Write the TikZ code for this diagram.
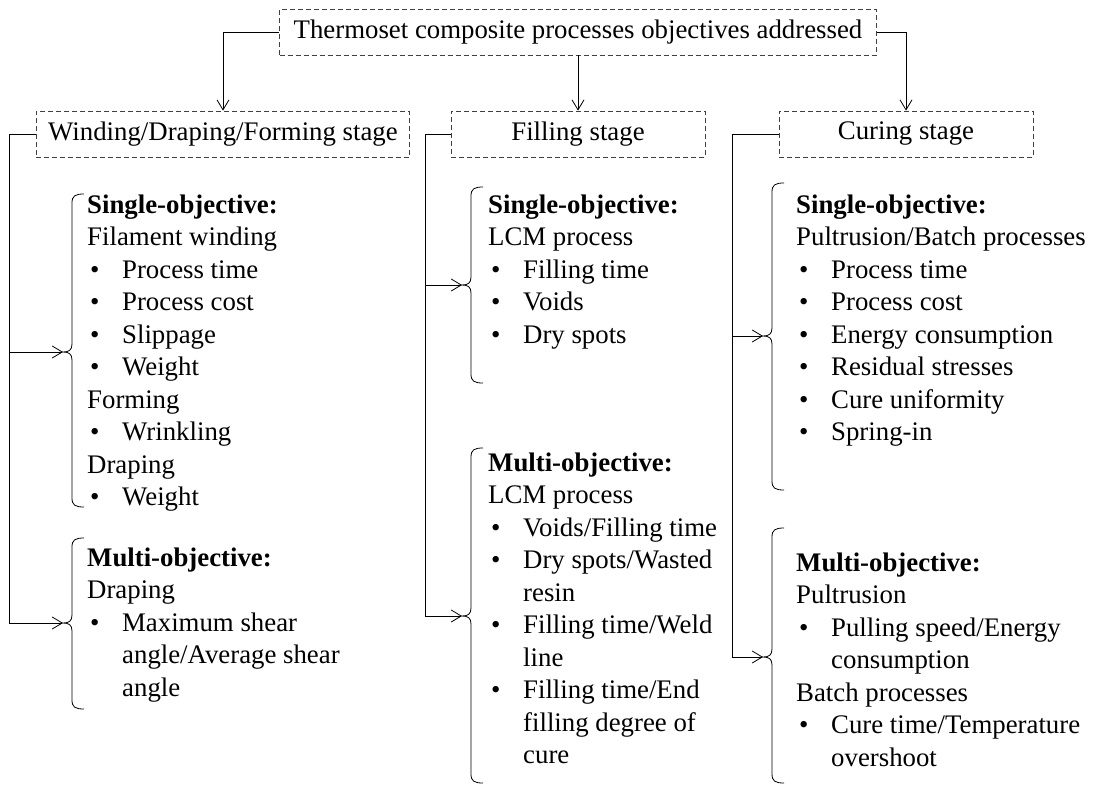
\documentclass[tikz,border=0pt]{standalone}
\usepackage{fontspec}
\setmainfont{Liberation Serif}
\usetikzlibrary{arrows.meta}

\newcommand{\diagfont}{\fontsize{26.8}{32.5}\selectfont}
\newcommand{\itembul}{\makebox[35pt][l]{\hspace{3pt}\textbullet}}
\newcommand{\wrapind}{\hspace*{35pt}}
% #1 tip name, #2 spine x, #3 top, #4 tip y, #5 bottom
\newcommand{\objbrace}[5]{%
  \coordinate (#1) at (#2-9,#4);
  \draw[brace line] (#2+12,#3) .. controls (#2+3,#3) and (#2,#3+2) .. (#2,#3+9)
    -- (#2,#4-8) .. controls (#2,#4-2) and (#2-3,#4) .. (#1)
    .. controls (#2-3,#4) and (#2,#4+2) .. (#2,#4+8)
    -- (#2,#5-9) .. controls (#2,#5-2) and (#2+3,#5) .. (#2+12,#5);}

\begin{document}
\begin{tikzpicture}[x=1pt, y=-1pt,
  stage/.style={draw=black!75, dash pattern=on 5pt off 3pt, line width=0.8pt,
    minimum width=254pt, minimum height=46pt, inner xsep=12pt, font=\diagfont},
  txt/.style={align=left, inner sep=0pt, anchor=base west, font=\diagfont},
  link/.style={line width=0.8pt, -{Straight Barb[length=10pt,width=12pt]}},
  brace line/.style={line width=0.8pt}]
\useasboundingbox (0,0) rectangle (1094,787);

% boxes
\node[stage, inner xsep=14pt] (goal) at (578,32) {Thermoset composite processes objectives addressed};
\node[stage] (wind) at (223,134) {Winding/Draping/Forming stage};
\node[stage] (fill) at (578,134) {Filling stage};
\node[stage] (cure) at (906,134) {Curing stage};

\draw[link] (goal.west) -| (wind.north);
\draw[link] (goal.south) -- (fill.north);
\draw[link] (goal.east) -| (cure.north);

% braces
\objbrace{lsg}{72}{194}{352}{507}
\objbrace{lmu}{72}{538}{623}{709}
\objbrace{fsg}{471}{187}{285}{383}
\objbrace{fmu}{471}{448}{616}{783}
\objbrace{csg}{772}{183}{336}{490}
\objbrace{cmu}{772}{528}{657}{783}

% trunks
\coordinate (wx) at (9,0);
\coordinate (fx) at (425,0);
\coordinate (cx) at (732,0);
\draw[link] (wind.west) -| (wx |- lmu) -- (lmu);
\draw[link] (wx |- lsg) -- (lsg);
\draw[link] (fill.west) -| (fx |- fmu) -- (fmu);
\draw[link] (fx |- fsg) -- (fsg);
\draw[link] (cure.west) -| (cx |- cmu) -- (cmu);
\draw[link] (cx |- csg) -- (csg);

% texts (placed at the baseline of their last line)
\node[txt] (lsgtxt) at (87,505.5) {\textbf{Single-objective:}\\Filament winding\\\itembul Process time\\\itembul Process cost\\\itembul Slippage\\\itembul Weight\\Forming\\\itembul Wrinkling\\Draping\\\itembul Weight};
\node[txt] (lmutxt) at (87,696) {\textbf{Multi-objective:}\\Draping\\\itembul Maximum shear\\\wrapind angle/Average shear\\\wrapind angle};
\node[txt] (fsgtxt) at (488,343) {\textbf{Single-objective:}\\LCM process\\\itembul Filling time\\\itembul Voids\\\itembul Dry spots};
\node[txt] (fmutxt) at (488,763.5) {\textbf{Multi-objective:}\\LCM process\\\itembul Voids/Filling time\\\itembul Dry spots/Wasted\\\wrapind resin\\\itembul Filling time/Weld\\\wrapind line\\\itembul Filling time/End\\\wrapind filling degree of\\\wrapind cure};
\node[txt] (csgtxt) at (796,440.5) {\textbf{Single-objective:}\\Pultrusion/Batch processes\\\itembul Process time\\\itembul Process cost\\\itembul Energy consumption\\\itembul Residual stresses\\\itembul Cure uniformity\\\itembul Spring-in};
\node[txt] (cmutxt) at (796,766) {\textbf{Multi-objective:}\\Pultrusion\\\itembul Pulling speed/Energy\\\wrapind consumption\\Batch processes\\\itembul Cure time/Temperature\\\wrapind overshoot};
\end{tikzpicture}
\end{document}
